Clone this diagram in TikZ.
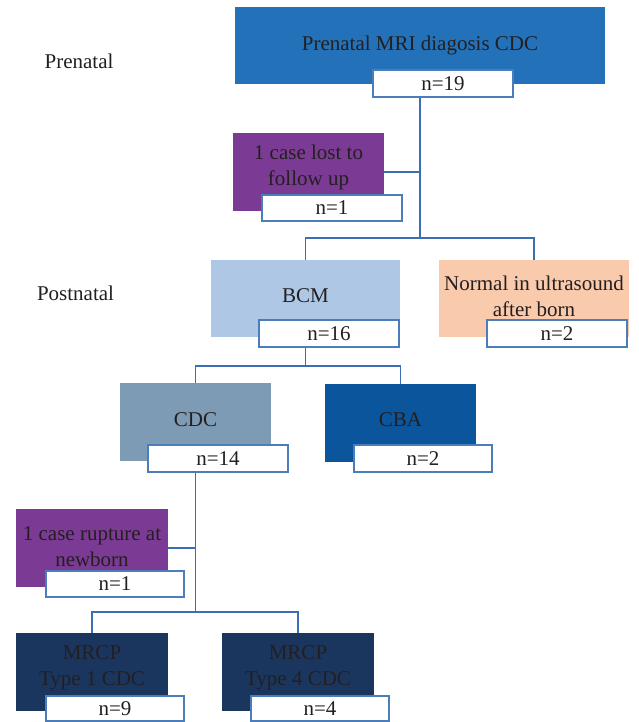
\documentclass[tikz,border=0pt]{standalone}
\usepackage{fontspec}
\setmainfont{Liberation Serif}
\definecolor{txt}{HTML}{231F20}
\definecolor{cTop}{HTML}{2372B9}
\definecolor{cPurple}{HTML}{7B3A94}
\definecolor{cBCM}{HTML}{ADC7E5}
\definecolor{cPeach}{HTML}{FACAAC}
\definecolor{cCDC}{HTML}{7D9BB5}
\definecolor{cCBA}{HTML}{0B559C}
\definecolor{cNavy}{HTML}{1B365E}
\definecolor{cLine}{HTML}{3C6EB4}
\definecolor{cNBorder}{HTML}{4A7DBA}
\begin{document}
\begin{tikzpicture}[x=1pt,y=-1pt,
  every node/.style={font=\fontsize{21}{26}\selectfont, text=txt},
  colbox/.style={draw=none, inner sep=0pt, minimum width=#1, minimum height=78pt},
  nbox/.style={draw=cNBorder, line width=1.2pt, fill=white, inner sep=0pt, minimum width=140pt, minimum height=27pt},
  lbl/.style={align=center, inner sep=0pt},
  conn/.style={draw=cLine, line width=1.3pt}]
\useasboundingbox (0,0) rectangle (638,722);
\fill[white] (0,0) rectangle (638,722);

% stage labels
\node[inner sep=0pt] (prenatal) at (79,61) {Prenatal};
\node[inner sep=0pt] (postnatal) at (75.5,293) {Postnatal};

% top
\node[colbox=370pt, fill=cTop, minimum height=77pt] (top) at (420,45.5) {};
\node[lbl] (topT) at (420,45) {Prenatal MRI diagosis CDC};
\node[nbox] (n19) at (443,83.5) {n=19};

% lost to follow up
\node[colbox=151pt, fill=cPurple] (lost) at (308.5,172) {};
\node[lbl] (lostT) at (308.5,167.5) {1 case lost to\\follow up};
\node[nbox, minimum height=26pt] (n1a) at (332,208) {n=1};

% BCM and Normal
\node[colbox=189pt, fill=cBCM, minimum height=77pt] (bcm) at (305.5,298.5) {};
\node[lbl] (bcmT) at (305.5,296) {BCM};
\node[nbox] (n16) at (329,333.5) {n=16};

\node[colbox=190pt, fill=cPeach, minimum height=77pt] (normal) at (534,298.5) {};
\node[lbl] (normalT) at (534,296.5) {Normal in ultrasound\\after born};
\node[nbox] (n2a) at (557,333.5) {n=2};

% CDC and CBA
\node[colbox=151pt, fill=cCDC] (cdc) at (195.5,422) {};
\node[lbl] (cdcT) at (195.5,420) {CDC};
\node[nbox] (n14) at (218,458.5) {n=14};

\node[colbox=151pt, fill=cCBA] (cba) at (400.5,423) {};
\node[lbl] (cbaT) at (400.5,420) {CBA};
\node[nbox, minimum width=138pt] (n2b) at (423,458.5) {n=2};

% rupture
\node[colbox=152pt, fill=cPurple] (rupture) at (92,548) {};
\node[lbl] (ruptureT) at (92,546.5) {1 case rupture at\\newborn};
\node[nbox, minimum width=138pt, minimum height=26pt] (n1b) at (115,584) {n=1};

% MRCP
\node[colbox=152pt, fill=cNavy] (m1) at (92,672) {};
\node[lbl] (m1T) at (92,667.5) {MRCP\\Type 1 CDC};
\node[nbox, minimum width=138pt, minimum height=25pt] (n9) at (115,708.5) {n=9};

\node[colbox=152pt, fill=cNavy] (m4) at (298,672) {};
\node[lbl] (m4T) at (298,667.5) {MRCP\\Type 4 CDC};
\node[nbox, minimum width=138pt, minimum height=25pt] (n4) at (320,708.5) {n=4};

% connectors
\coordinate (j1) at (420,238);
\coordinate (j2) at (305.5,366);
\coordinate (j3) at (195.5,612);

\draw[conn] (n19.south -| top.south) -- (j1);
\draw[conn] (lost.east) -- (lost.east -| j1);
\draw[conn] (bcm.north) -- (bcm.north |- j1) -- (normal.north |- j1) -- (normal.north);

\draw[conn] (n16.south -| bcm.south) -- (j2);
\draw[conn] (cdc.north) -- (cdc.north |- j2) -- (cba.north |- j2) -- (cba.north);

\draw[conn] (n14.south -| cdc.south) -- (j3);
\draw[conn] (rupture.east) -- (rupture.east -| j3);
\draw[conn] (m1.north) -- (m1.north |- j3) -- (m4.north |- j3) -- (m4.north);
\end{tikzpicture}
\end{document}
